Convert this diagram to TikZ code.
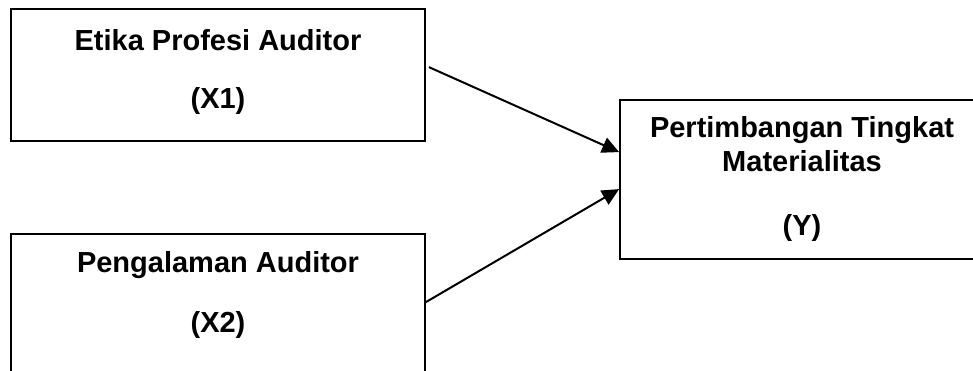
\documentclass[tikz,border=0pt]{standalone}
\usepackage{fontspec}
\setmainfont{Liberation Sans}
\usetikzlibrary{arrows.meta,calc}
\begin{document}
\begin{tikzpicture}[x=1pt,y=-1pt,
  box/.style={draw=black,line width=1.8pt,rectangle,inner sep=0pt},
  lbl/.style={anchor=base,inner sep=0pt,font=\fontsize{29}{34}\selectfont\bfseries},
  conn/.style={line width=2pt,-{Triangle[length=17pt,width=16pt]}}]
\clip (0,0) rectangle (973,370);
\fill[white] (0,0) rectangle (973,370);
\node[box,minimum width=414pt,minimum height=132pt] (x1) at (218,75) {};
\node[box,minimum width=414pt,minimum height=200pt] (x2) at (218,334) {};
\node[box,minimum width=400pt,minimum height=159pt] (y) at (820,179.5) {};
\node[lbl] (t1a) at (218,50) {Etika Profesi Auditor};
\node[lbl] (t1b) at (218,108) {(X1)};
\node[lbl] (t2a) at (218,272) {Pengalaman Auditor};
\node[lbl] (t2b) at (218,332) {(X2)};
\node[lbl] (tya) at (802,137) {Pertimbangan Tingkat};
\node[lbl] (tyb) at (802,171) {Materialitas};
\node[lbl] (tyc) at (802,235) {(Y)};
\coordinate (s1) at ($(x1.north east)+(3,59)$);
\coordinate (s2) at ($(x2.north east)+(0,69)$);
\coordinate (e1) at ($(y.north west)+(0,53)$);
\coordinate (e2) at ($(y.north west)+(0,90)$);
\draw[conn] (s1) -- (e1);
\draw[conn] (s2) -- (e2);
\end{tikzpicture}
\end{document}
